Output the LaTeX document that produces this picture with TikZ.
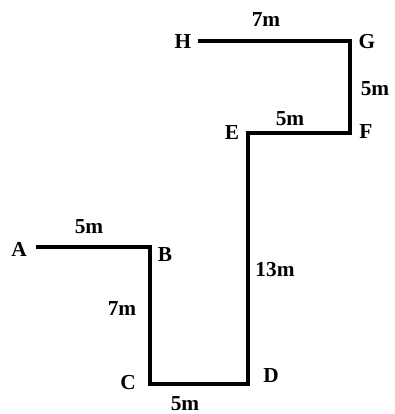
\documentclass[tikz,border=0pt]{standalone}
\usepackage{fontspec}
\setmainfont{Liberation Serif}
\begin{document}
\begin{tikzpicture}[x=0.75pt,y=-0.75pt,
  lbl/.style={font=\fontsize{16}{17}\selectfont\bfseries, inner sep=0pt},
  walk/.style={line width=2.4pt, line join=miter, line cap=butt}]
\useasboundingbox (0,0) rectangle (394,414);
\coordinate (a) at (36,247);
\coordinate (b) at (150,247);
\coordinate (c) at (150,384);
\coordinate (d) at (248,384);
\coordinate (e) at (248,133);
\coordinate (f) at (350,133);
\coordinate (g) at (350,41);
\coordinate (h) at (198,41);
\draw[walk] (a) -- (b) -- (c) -- (d) -- (e) -- (f) -- (g) -- (h);
\node[lbl] (A) at (19,249) {A};
\node[lbl] (B) at (165,255) {B};
\node[lbl] (C) at (128,383) {C};
\node[lbl] (D) at (271,376) {D};
\node[lbl] (E) at (232,133) {E};
\node[lbl] (F) at (366,132) {F};
\node[lbl] (G) at (367,42) {G};
\node[lbl] (H) at (183,42) {H};
\node[lbl] (ab) at (89,227) {5m};
\node[lbl] (bc) at (122,309) {7m};
\node[lbl] (cd) at (185,404) {5m};
\node[lbl] (de) at (275,270) {13m};
\node[lbl] (ef) at (290,119) {5m};
\node[lbl] (fg) at (375,89) {5m};
\node[lbl] (gh) at (266,20) {7m};
\end{tikzpicture}
\end{document}
